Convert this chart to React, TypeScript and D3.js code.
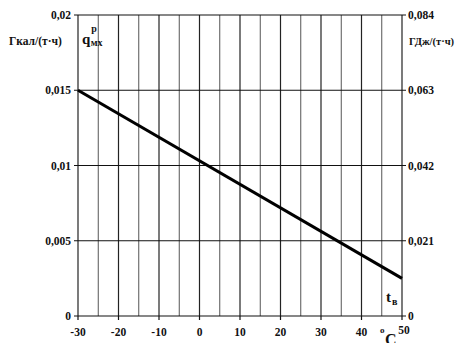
import React, { useEffect, useRef } from 'react';
import * as d3 from 'd3';

// ось температур, °C
const tempTicks = [-30, -20, -10, 0, 10, 20, 30, 40, 50];
const tempGrid = [-25, -15, -5, 5, 15, 25, 35, 45];
// удельный расход, Гкал/(т·ч) и ГДж/(т·ч)
const qTicks = [0, 0.005, 0.01, 0.015, 0.02];
const qLabels = ['0', '0,005', '0,01', '0,015', '0,02'];
const gjLabels = ['0', '0,021', '0,042', '0,063', '0,084'];
// линия q_мх(t_в)
const lineTemps = [-30, 50];
const lineQ = [0.015, 0.0025];

const W = 469;
const H = 351;
const font = "'Liberation Serif', 'DejaVu Serif', serif";

export default function App() {
  const ref = useRef<SVGSVGElement>(null);

  useEffect(() => {
    const svg = d3.select(ref.current);
    svg.selectAll('*').remove();

    const x = d3.scaleLinear().domain([-30, 50]).range([78, 402]);
    const y = d3.scaleLinear().domain([0, 0.02]).range([316, 15]);

    svg.append('rect').attr('width', W).attr('height', H).attr('fill', '#fff');

    // вертикальная сетка
    svg.selectAll('.vgrid')
      .data(tempGrid.concat(tempTicks))
      .enter()
      .append('line')
      .attr('x1', d => x(d))
      .attr('x2', d => x(d))
      .attr('y1', y(0))
      .attr('y2', y(0.02))
      .attr('stroke', (d) => d % 10 === 0 ? '#222' : '#555')
      .attr('stroke-width', (d) => d % 10 === 0 ? 1.2 : 1);

    // горизонтальная сетка
    svg.selectAll('.hgrid')
      .data(qTicks)
      .enter()
      .append('line')
      .attr('x1', x(-30) - 4)
      .attr('x2', x(50) + 4)
      .attr('y1', d => y(d))
      .attr('y2', d => y(d))
      .attr('stroke', '#111')
      .attr('stroke-width', 1.2);

    // нижние засечки
    svg.selectAll('.xtick')
      .data(tempTicks)
      .enter()
      .append('line')
      .attr('x1', d => x(d))
      .attr('x2', d => x(d))
      .attr('y1', y(0))
      .attr('y2', y(0) + 4)
      .attr('stroke', '#111')
      .attr('stroke-width', 1.2);

    const txt = (sel: any) =>
      sel.style('font-family', font).style('font-weight', 'bold').attr('font-size', 11.5).attr('fill', '#111');

    // левые подписи
    svg.selectAll('.ql')
      .data(qTicks)
      .enter()
      .append('text')
      .call(txt)
      .attr('x', 71)
      .attr('y', d => y(d) + 4)
      .attr('text-anchor', 'end')
      .text((d, i) => qLabels[i]);

    // правые подписи
    svg.selectAll('.qr')
      .data(qTicks)
      .enter()
      .append('text')
      .call(txt)
      .attr('x', 408)
      .attr('y', d => y(d) + 4)
      .attr('text-anchor', 'start')
      .text((d, i) => gjLabels[i]);

    // подписи температур
    svg.selectAll('.xl')
      .data(tempTicks.slice(0, -1))
      .enter()
      .append('text')
      .call(txt)
      .attr('x', d => x(d))
      .attr('y', 336)
      .attr('text-anchor', 'middle')
      .text(d => String(d));

    svg.append('text').call(txt)
      .attr('x', x(50) + 2).attr('y', 334).attr('text-anchor', 'middle').text('50');
    svg.append('text').call(txt)
      .attr('x', 380).attr('y', 333).attr('font-size', 9).text('o');
    svg.append('text').call(txt)
      .attr('x', 385).attr('y', 345).attr('font-size', 16).text('C');

    // единицы
    svg.append('text').call(txt)
      .attr('x', 9).attr('y', 45).text('Гкал/(т·ч)');
    svg.append('text').call(txt)
      .attr('x', 409).attr('y', 45).attr('font-size', 10.5).text('ГДж/(т·ч)');

    // q^р_мх
    const q = svg.append('text').call(txt).attr('x', 82).attr('y', 44).attr('font-size', 15);
    q.append('tspan').text('q');
    q.append('tspan').attr('font-size', 10).attr('dy', -12).attr('dx', 1).text('р');
    q.append('tspan').attr('font-size', 10).attr('dy', 14).attr('dx', -6).text('мх');

    // t_в
    const t = svg.append('text').call(txt).attr('x', 386).attr('y', 302).attr('font-size', 15);
    t.append('tspan').text('t');
    t.append('tspan').attr('font-size', 10).attr('dy', 3).attr('dx', 1).text('в');

    // линия
    const line = d3.line<number>()
      .x((d, i) => x(lineTemps[i]))
      .y(d => y(d));
    svg.append('path')
      .datum(lineQ)
      .attr('d', line)
      .attr('fill', 'none')
      .attr('stroke', '#000')
      .attr('stroke-width', 3);
  }, []);

  return <svg ref={ref} width={W} height={H} style={{ display: 'block', margin: -8 }} />;
}
